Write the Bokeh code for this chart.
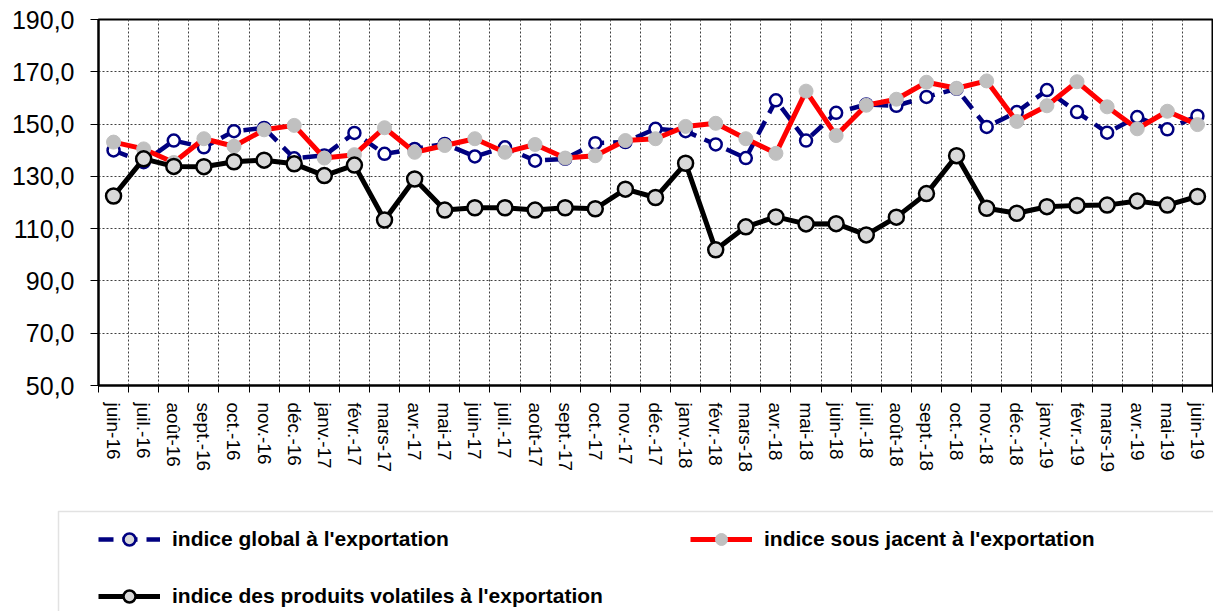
from bokeh.plotting import figure
from bokeh.models import Range1d, FixedTicker, Legend, LegendItem, BoxAnnotation
from bokeh.layouts import column, row
from bokeh.embed import file_html
from bokeh.resources import INLINE

months = ["juin-16", "juil.-16", "août-16", "sept.-16", "oct.-16", "nov.-16", "déc.-16",
          "janv.-17", "févr.-17", "mars-17", "avr.-17", "mai-17", "juin-17", "juil.-17",
          "août-17", "sept.-17", "oct.-17", "nov.-17", "déc.-17", "janv.-18", "févr.-18",
          "mars-18", "avr.-18", "mai-18", "juin-18", "juil.-18", "août-18", "sept.-18",
          "oct.-18", "nov.-18", "déc.-18", "janv.-19", "févr.-19", "mars-19", "avr.-19",
          "mai-19", "juin-19"]

global_idx = [139.9, 135.4, 143.7, 141.1, 147.3, 148.5, 136.9, 138.0, 146.6, 138.6,
              140.5, 142.4, 137.6, 141.1, 136.0, 136.7, 142.7, 143.1, 148.2, 147.3,
              142.2, 137.0, 159.1, 143.7, 154.3, 157.5, 157.0, 160.4, 163.5, 148.9,
              154.6, 163.0, 154.6, 146.7, 152.7, 148.0, 153.1]

sous_jacent = [143.1, 140.5, 135.3, 144.4, 141.5, 147.8, 149.5, 137.0, 138.3, 148.6,
               139.2, 141.8, 144.4, 139.2, 142.2, 137.0, 137.9, 143.7, 144.4, 149.1,
               150.3, 144.4, 138.8, 162.6, 145.6, 157.2, 159.5, 166.0, 163.7, 166.5,
               151.0, 157.0, 166.2, 156.6, 148.2, 154.9, 149.8]

volatiles = [122.5, 136.7, 133.8, 133.7, 135.6, 136.2, 134.8, 130.3, 134.3, 113.3,
             129.0, 117.1, 118.0, 118.0, 117.1, 118.0, 117.6, 125.1, 121.9, 135.0,
             101.9, 110.7, 114.5, 111.8, 111.9, 107.6, 114.4, 123.4, 137.9, 117.8,
             115.9, 118.4, 118.9, 119.0, 120.6, 119.0, 122.3]

y_ticks = [50, 70, 90, 110, 130, 150, 170, 190]

labels = ["indice global à l'exportation",
          "indice sous jacent à l'exportation",
          "indice des produits volatiles à l'exportation"]

x = list(range(len(months)))
FONT = "Liberation Sans"

BLUE = dict(line_color="#000080", line_width=4.5, line_dash="15 9")
BLUE_M = dict(size=12, fill_color="white", line_color="#000080", line_width=2.5)
RED = dict(line_color="#ff0000", line_width=5)
RED_M = dict(size=14, fill_color="#c0c0c0", line_color="#c0c0c0", line_width=1)
BLK = dict(line_color="black", line_width=5)
BLK_M = dict(size=15, fill_color="#d9d9d9", line_color="black", line_width=2.5)

# ---------------- main chart ----------------
p = figure(width=1213, height=505, output_backend="svg", toolbar_location=None,
           x_range=Range1d(-0.5, len(months) - 0.5), y_range=Range1d(50, 190),
           min_border_left=98, min_border_top=19, min_border_right=1, min_border_bottom=120)

p.outline_line_color = "black"
p.outline_line_width = 2
p.background_fill_color = "white"
p.border_fill_color = "white"

p.yaxis.ticker = FixedTicker(ticks=y_ticks)
p.yaxis.major_label_overrides = {v: f"{v},0" for v in y_ticks}
p.yaxis.major_label_text_font = FONT
p.yaxis.major_label_text_font_size = "25px"
p.yaxis.major_label_text_color = "black"
p.yaxis.axis_line_width = 2
p.yaxis.axis_line_color = "black"
p.yaxis.major_tick_out = 8
p.yaxis.major_tick_in = 0
p.yaxis.minor_tick_line_color = None
p.yaxis.major_label_standoff = 16

p.xaxis.ticker = FixedTicker(ticks=x, minor_ticks=[i - 0.5 for i in range(len(months) + 1)])
p.xaxis.major_label_overrides = {i: m for i, m in enumerate(months)}
p.xaxis.major_label_orientation = "vertical"
p.xaxis.major_label_text_font = FONT
p.xaxis.major_label_text_font_size = "19px"
p.xaxis.major_label_text_color = "black"
p.xaxis.major_tick_line_color = None
p.xaxis.minor_tick_out = 7
p.xaxis.minor_tick_in = 0
p.xaxis.minor_tick_line_color = "black"
p.xaxis.axis_line_width = 2
p.xaxis.axis_line_color = "black"
p.xaxis.major_label_standoff = 10

p.ygrid.grid_line_color = "#404040"
p.ygrid.grid_line_dash = "2 2"
p.ygrid.grid_line_width = 1
p.xgrid.grid_line_color = None
p.xgrid.minor_grid_line_color = "#404040"
p.xgrid.minor_grid_line_dash = "2 2"
p.xgrid.minor_grid_line_width = 1

p.line(x, global_idx, **BLUE)
p.scatter(x, global_idx, **BLUE_M)
p.line(x, sous_jacent, **RED)
p.scatter(x, sous_jacent, **RED_M)
p.line(x, volatiles, **BLK)
p.scatter(x, volatiles, **BLK_M)

# ---------------- legend strip ----------------
# y range is negative so the series drawn here (only for legend swatches) stay out of view
q = figure(width=1213, height=106, output_backend="svg", toolbar_location=None,
           x_range=Range1d(0, 1213), y_range=Range1d(-106, 0),
           x_axis_type=None, y_axis_type=None,
           min_border_left=0, min_border_right=0, min_border_top=0, min_border_bottom=0)
q.outline_line_color = None
q.background_fill_color = "white"
q.border_fill_color = "white"
q.add_layout(BoxAnnotation(left=58, right=1400, bottom=-300, top=-6,
                           fill_color="white", fill_alpha=0,
                           line_color="#a0a0a0", line_width=1.5))

lb = q.line(x, global_idx, **BLUE)
mb = q.scatter(x, global_idx, **dict(BLUE_M, fill_color="#d9d9d9"))
lr = q.line(x, sous_jacent, **RED)
mr = q.scatter(x, sous_jacent, **RED_M)
lk = q.line(x, volatiles, **BLK)
mk = q.scatter(x, volatiles, **BLK_M)

legend = Legend(items=[
    LegendItem(label=labels[0], renderers=[lb, mb]),
    LegendItem(label=labels[1], renderers=[lr, mr]),
    LegendItem(label=labels[2], renderers=[lk, mk]),
], location=(98, 0), orientation="horizontal", ncols=2)
legend.label_text_font = FONT
legend.label_text_font_style = "bold"
legend.label_text_font_size = "21px"
legend.label_text_color = "black"
legend.glyph_width = 62
legend.glyph_height = 30
legend.label_height = 24
legend.label_width = 491
legend.label_standoff = 12
legend.spacing = 27
legend.padding = 0
legend.margin = 0
legend.border_line_color = None
legend.background_fill_alpha = 0
q.add_layout(legend, "center")

layout = column(p, row(q), spacing=0)
open("out.html", "w").write(file_html(layout, INLINE))
